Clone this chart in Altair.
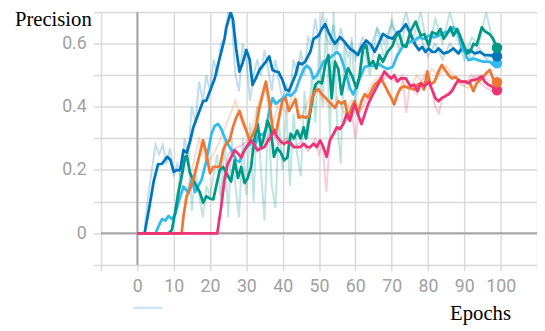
import altair as alt
import pandas as pd

NAMES = ["run_a", "run_b", "run_c", "run_d", "run_e"]
COLORS = ["#0077BB", "#33BBEE", "#009988", "#EE7733", "#EE3377"]

# ---- smoothed curves ----
# run_a (dark blue)
A_E = [0, 2, 3.2, 4.5, 5.7, 6.8, 8.2, 9.1, 10, 10.9, 11.8, 12.7, 13.6, 14.5, 15.4, 16.8, 18.1, 19, 20, 21.3,
       22.2, 23.1, 24, 24.5, 25.7, 26.3, 27.2, 28.1, 29, 30, 30.9, 31.7, 32.6, 33.6, 34.5, 35.4, 36.3, 37.2, 38.1, 38.9,
       39.9, 40.8, 41.7, 42.6, 43.5, 44.4, 45.3, 46.2, 47.6, 48.5, 49.9, 50.8, 51.7, 52.6, 53.5, 54.4, 55.8, 57.1, 58.5, 59.8,
       60.7, 61.7, 63, 64.4, 65.3, 66.2, 67.6, 68.9, 70.3, 71.6, 72.5, 73.9, 74.8, 75.7, 76.6, 77.5, 78.4, 79.3, 80.2, 81.1,
       82, 82.9, 84.3, 85.7, 87, 88.4, 89.3, 90.2, 91.6, 92.9, 94.3, 95.6, 97, 98.4, 99]
A_V = [0, 0, 0.076, 0.164, 0.218, 0.22, 0.242, 0.232, 0.195, 0.2, 0.2, 0.263, 0.255, 0.29, 0.335, 0.378, 0.418, 0.42, 0.45, 0.49,
       0.533, 0.574, 0.615, 0.652, 0.699, 0.678, 0.584, 0.512, 0.54, 0.58, 0.55, 0.47, 0.49, 0.517, 0.53, 0.543, 0.56, 0.517, 0.512, 0.51,
       0.486, 0.455, 0.45, 0.475, 0.5, 0.54, 0.535, 0.543, 0.574, 0.615, 0.626, 0.647, 0.662, 0.637, 0.616, 0.6, 0.621, 0.605, 0.584, 0.574,
       0.564, 0.59, 0.61, 0.595, 0.574, 0.595, 0.631, 0.621, 0.616, 0.636, 0.64, 0.662, 0.64, 0.616, 0.595, 0.58, 0.59, 0.574, 0.585, 0.574,
       0.574, 0.585, 0.569, 0.574, 0.585, 0.569, 0.585, 0.574, 0.58, 0.569, 0.574, 0.564, 0.564, 0.559, 0.56]

# run_b (light blue)
B_E = [0, 5, 5.9, 6.8, 7.7, 8.6, 9.5, 10.4, 11.3, 12.7, 14, 15, 15.9, 16.8, 17.7, 19, 20.4, 21.3, 22.2, 23.1,
       24, 25, 26.3, 27.2, 28.1, 29, 30, 30.9, 31.7, 32.6, 33.6, 34.5, 35.4, 36.3, 37.2, 38.1, 39, 40.4, 41.3, 42.2,
       43.5, 44.4, 45.8, 46.7, 47.6, 48.5, 49.4, 50.3, 51.2, 52.6, 54, 54.9, 55.8, 56.7, 57.6, 58.5, 59.4, 60.3, 61.2, 62.6,
       63.9, 65.3, 66.6, 67.6, 68.9, 70.3, 71.6, 73, 74.8, 76.2, 77.5, 78.9, 80.2, 81.6, 83, 84.8, 86.2, 87, 88.4, 89.3,
       90.2, 91.1, 92.5, 93.8, 95.2, 97, 97.9, 99]
B_V = [0, 0, 0.024, 0.045, 0.04, 0.055, 0.045, 0.06, 0.097, 0.148, 0.128, 0.17, 0.13, 0.15, 0.17, 0.23, 0.315, 0.34, 0.346, 0.33,
       0.304, 0.28, 0.257, 0.231, 0.226, 0.252, 0.273, 0.28, 0.294, 0.285, 0.315, 0.31, 0.33, 0.387, 0.428, 0.41, 0.418, 0.43, 0.44, 0.435,
       0.45, 0.48, 0.52, 0.53, 0.52, 0.49, 0.5, 0.52, 0.543, 0.553, 0.564, 0.574, 0.564, 0.533, 0.5, 0.46, 0.44, 0.46, 0.49, 0.527,
       0.53, 0.53, 0.535, 0.527, 0.52, 0.527, 0.564, 0.59, 0.605, 0.61, 0.621, 0.615, 0.626, 0.62, 0.626, 0.636, 0.64, 0.652, 0.63, 0.589,
       0.57, 0.548, 0.553, 0.548, 0.543, 0.543, 0.533, 0.538]

# run_c (teal)
C_E = [0, 8.6, 9.5, 10.4, 11.3, 12.2, 13.2, 13.6, 14.5, 15.4, 16.3, 17.2, 18.1, 19, 20, 20.9, 21.8, 22.7, 23.6, 24.5,
       25.8, 26.8, 27.7, 28.6, 29.5, 30.4, 31.3, 32.2, 33.1, 34, 35, 35.8, 36.7, 37.6, 38.5, 39.5, 40.4, 41.3, 42.2, 43.1,
       44, 44.9, 45.8, 46.4, 47.2, 48.1, 49, 49.9, 50.8, 51.7, 52.6, 53.5, 54.4, 55.3, 56.2, 57.1, 58, 59, 60.3, 61.2,
       62.1, 63, 63.9, 64.9, 65.8, 66.6, 67.6, 68.9, 70.3, 71.2, 72.1, 73, 74, 75.2, 76.6, 78, 79, 80.2, 81.1, 82.5,
       83.4, 84.3, 85.2, 86.2, 87, 88, 89, 89.8, 90.7, 91.6, 92.5, 93.4, 94.8, 95.6, 97, 97.9, 99]
C_V = [0, 0, 0.01, 0.065, 0.128, 0.18, 0.242, 0.245, 0.19, 0.17, 0.148, 0.13, 0.097, 0.117, 0.11, 0.107, 0.154, 0.2, 0.21, 0.19,
       0.164, 0.231, 0.175, 0.21, 0.159, 0.175, 0.21, 0.294, 0.346, 0.273, 0.31, 0.356, 0.33, 0.242, 0.27, 0.255, 0.231, 0.24, 0.315, 0.3,
       0.325, 0.3, 0.335, 0.3, 0.356, 0.418, 0.47, 0.48, 0.475, 0.533, 0.564, 0.428, 0.543, 0.52, 0.44, 0.49, 0.522, 0.5, 0.46, 0.5,
       0.584, 0.595, 0.533, 0.545, 0.522, 0.564, 0.543, 0.574, 0.595, 0.626, 0.63, 0.595, 0.59, 0.64, 0.67, 0.626, 0.63, 0.595, 0.636, 0.63,
       0.647, 0.616, 0.63, 0.652, 0.626, 0.647, 0.62, 0.595, 0.569, 0.574, 0.6, 0.595, 0.652, 0.64, 0.63, 0.616, 0.587]

# run_d (orange)
D_E = [0, 12.2, 12.7, 13.6, 14.5, 15.4, 16.3, 17.2, 18.1, 19, 20, 20.9, 21.8, 22.7, 23.6, 24.5, 25.4, 26.3, 27.2, 28.1,
       29, 30, 30.9, 31.7, 32.6, 33.6, 34.5, 35.4, 36.3, 37.2, 38.1, 39, 39.9, 40.8, 41.7, 42.6, 43.5, 44.4, 45.3, 46.2,
       47.2, 48.1, 49, 49.9, 50.8, 51.7, 52.6, 53.5, 54.4, 55.3, 56.2, 57.1, 58, 58.9, 59.8, 60.7, 61.7, 62.6, 63.5, 64.4,
       65.3, 66.2, 67.1, 68, 68.9, 69.8, 70.7, 71.6, 72.5, 73.4, 74.8, 76.2, 77.1, 78, 78.9, 79.8, 80.7, 81.8, 82.9, 83.8,
       84.8, 85.7, 86.6, 87.6, 88.8, 89.8, 90.7, 91.6, 92.5, 93.4, 94.8, 96.1, 97, 97.9, 99]
D_V = [0, 0, 0.055, 0.117, 0.14, 0.17, 0.21, 0.252, 0.294, 0.252, 0.19, 0.21, 0.21, 0.21, 0.263, 0.285, 0.294, 0.335, 0.366, 0.387,
       0.356, 0.325, 0.294, 0.31, 0.335, 0.397, 0.44, 0.48, 0.418, 0.335, 0.315, 0.366, 0.418, 0.428, 0.387, 0.405, 0.424, 0.366, 0.37, 0.366,
       0.37, 0.428, 0.45, 0.455, 0.44, 0.43, 0.418, 0.408, 0.397, 0.418, 0.41, 0.418, 0.366, 0.397, 0.418, 0.377, 0.418, 0.44, 0.43, 0.45,
       0.47, 0.48, 0.49, 0.47, 0.45, 0.43, 0.408, 0.44, 0.46, 0.465, 0.46, 0.455, 0.47, 0.475, 0.455, 0.512, 0.47, 0.48, 0.512, 0.533,
       0.515, 0.5, 0.49, 0.495, 0.48, 0.48, 0.48, 0.475, 0.45, 0.475, 0.49, 0.507, 0.517, 0.49, 0.478]

# run_e (pink)
E_E = [0, 22, 23.1, 24, 24.9, 25.8, 26.8, 27.7, 28.6, 29.5, 30.4, 31.3, 32.2, 33.1, 34, 35, 35.8, 36.7, 37.6, 38.5,
       39.5, 40.4, 41.3, 42.2, 43.1, 44, 44.9, 45.8, 46.7, 47.6, 48.5, 49.4, 50.3, 51.2, 52.1, 53, 54, 54.9, 55.8, 56.7,
       57.6, 58.5, 59.8, 60.7, 61.7, 62.6, 63.5, 64.4, 65.3, 66.2, 67.1, 68, 68.9, 69.8, 70.7, 71.6, 72.5, 73.9, 75.2, 76.2,
       77.1, 78, 79.1, 80.2, 81.1, 82, 82.9, 83.8, 84.8, 85.7, 86.6, 87.5, 88.4, 89.3, 90.2, 91.1, 92, 92.9, 93.8, 94.8,
       95.6, 96.6, 97.5, 99]
E_V = [0, 0, 0.086, 0.17, 0.22, 0.24, 0.263, 0.252, 0.24, 0.263, 0.28, 0.294, 0.28, 0.263, 0.268, 0.273, 0.29, 0.304, 0.325, 0.304,
       0.29, 0.283, 0.29, 0.285, 0.273, 0.273, 0.273, 0.283, 0.273, 0.273, 0.283, 0.273, 0.294, 0.273, 0.242, 0.294, 0.315, 0.335, 0.33, 0.346,
       0.377, 0.356, 0.408, 0.377, 0.346, 0.377, 0.408, 0.43, 0.45, 0.47, 0.49, 0.512, 0.5, 0.49, 0.5, 0.48, 0.49, 0.49, 0.465, 0.47,
       0.45, 0.475, 0.465, 0.48, 0.455, 0.428, 0.418, 0.428, 0.434, 0.44, 0.45, 0.47, 0.485, 0.48, 0.48, 0.475, 0.485, 0.485, 0.49, 0.497,
       0.48, 0.47, 0.465, 0.453]

# ---- faint raw (unsmoothed) curves ----
RA_E = [2, 3, 4, 5, 6, 7, 8, 9, 10, 11, 12, 13, 14, 15, 16, 17, 18, 19, 20, 21, 22, 23, 24, 25, 26, 27, 28, 29, 30,
        31, 32, 33, 34, 35, 36, 37, 38, 39, 40, 41, 42, 43, 44, 45, 46, 47, 48, 49, 50, 51, 52, 53, 54, 55, 56, 57, 58,
        59, 60, 62, 64, 66, 68, 70, 72, 74, 76, 78, 80, 82, 84, 86, 88, 90, 92, 94, 96, 98]
RA_V = [0.02, 0.12, 0.2, 0.28, 0.25, 0.28, 0.22, 0.27, 0.18, 0.22, 0.17, 0.3, 0.25, 0.4, 0.35, 0.48, 0.42, 0.5, 0.45,
        0.55, 0.5, 0.6, 0.62, 0.7, 0.68, 0.5, 0.45, 0.6, 0.55, 0.42, 0.5, 0.55, 0.5, 0.58, 0.52, 0.45, 0.55, 0.48, 0.42,
        0.47, 0.44, 0.55, 0.5, 0.58, 0.5, 0.62, 0.6, 0.68, 0.6, 0.7, 0.62, 0.6, 0.66, 0.58, 0.65, 0.6, 0.56, 0.6, 0.55,
        0.62, 0.58, 0.65, 0.6, 0.66, 0.62, 0.7, 0.6, 0.62, 0.56, 0.6, 0.55, 0.6, 0.57, 0.6, 0.55, 0.59, 0.55, 0.57]

RC_E = [10, 12, 14, 15, 16, 18, 19, 20, 22, 23, 24, 25, 26, 27, 28, 29, 30, 31, 32, 33, 34, 35, 36, 37, 38, 39, 40,
        41, 42, 43, 44, 45, 46, 47, 48, 49, 50, 51, 52, 53, 54, 55, 56, 57, 58, 59, 60, 62, 64, 66, 68, 70, 72, 74, 76,
        78, 80, 82, 84, 86, 88, 90, 92, 94, 96, 98]
RC_V = [0.05, 0.2, 0.28, 0.07, 0.2, 0.05, 0.15, 0.12, 0.25, 0.1, 0.3, 0.05, 0.3, 0.15, 0.05, 0.3, 0.12, 0.35, 0.1, 0.4,
        0.2, 0.04, 0.38, 0.15, 0.08, 0.35, 0.2, 0.4, 0.15, 0.38, 0.25, 0.18, 0.45, 0.3, 0.5, 0.35, 0.6, 0.4, 0.68, 0.3,
        0.7, 0.35, 0.22, 0.6, 0.45, 0.62, 0.4, 0.6, 0.5, 0.65, 0.55, 0.68, 0.58, 0.66, 0.62, 0.7, 0.58, 0.68, 0.6, 0.7,
        0.62, 0.55, 0.62, 0.6, 0.7, 0.6]

RD_E = [13, 15, 17, 19, 21, 23, 25, 27, 29, 31, 33, 35, 37, 39, 41, 43, 45, 47, 49, 51, 53, 55, 57, 59, 61, 63, 65,
        67, 69, 71, 73, 75, 77, 79, 81, 83, 85, 87, 89, 91, 93, 95, 97]
RD_V = [0.1, 0.2, 0.3, 0.22, 0.25, 0.3, 0.36, 0.42, 0.34, 0.3, 0.4, 0.47, 0.33, 0.42, 0.38, 0.45, 0.36, 0.42, 0.47,
        0.42, 0.4, 0.43, 0.38, 0.42, 0.4, 0.44, 0.48, 0.5, 0.44, 0.42, 0.48, 0.46, 0.5, 0.47, 0.52, 0.5, 0.53, 0.5,
        0.47, 0.46, 0.5, 0.5, 0.48]

RE_E = [23, 25, 27, 29, 31, 33, 35, 37, 39, 41, 43, 45, 47, 49, 50, 51, 52, 53, 55, 57, 59, 60, 61, 63, 65, 67, 69,
        71, 73, 74, 75, 77, 79, 81, 82, 83, 84, 86, 88, 90, 92, 94, 96, 98]
RE_V = [0.12, 0.25, 0.27, 0.28, 0.3, 0.26, 0.29, 0.32, 0.28, 0.3, 0.27, 0.29, 0.26, 0.3, 0.25, 0.28, 0.13, 0.3, 0.33,
        0.35, 0.38, 0.3, 0.38, 0.42, 0.45, 0.48, 0.5, 0.48, 0.5, 0.38, 0.47, 0.44, 0.5, 0.46, 0.4, 0.38, 0.43, 0.45,
        0.48, 0.47, 0.5, 0.48, 0.46, 0.45]

SERIES = [("run_a", A_E, A_V), ("run_b", B_E, B_V), ("run_c", C_E, C_V),
          ("run_d", D_E, D_V), ("run_e", E_E, E_V)]
RAW = [("run_a", RA_E, RA_V), ("run_c", RC_E, RC_V), ("run_d", RD_E, RD_V), ("run_e", RE_E, RE_V)]
DRAW_ORDER = {"run_b": 0, "run_a": 1, "run_e": 2, "run_d": 3, "run_c": 4}

X_GRID = list(range(-10, 111, 10))
Y_GRID = [round(-0.1 + 0.1 * i, 1) for i in range(9)]


def to_rows(items):
    out = []
    for name, es, vs in items:
        assert len(es) == len(vs), name
        for e, v in zip(es, vs):
            out.append({"run": name, "epoch": e, "value": v, "order": DRAW_ORDER[name]})
    return out


df = pd.DataFrame(to_rows(SERIES))
df_raw = pd.DataFrame(to_rows(RAW))
df_last = pd.DataFrame([{"run": n, "epoch": es[-1], "value": vs[-1], "order": DRAW_ORDER[n]}
                        for n, es, vs in SERIES])

GRID = "#dadada"
X_SCALE = alt.Scale(domain=[-10, 110], nice=False, zero=False)
Y_SCALE = alt.Scale(domain=[-0.1, 0.7], nice=False, zero=False)
color = alt.Color("run:N", scale=alt.Scale(domain=NAMES, range=COLORS), legend=None)

x_axis = alt.Axis(values=X_GRID, grid=True, gridColor=GRID, gridWidth=1.5,
                  domain=False, ticks=True, tickColor=GRID, tickWidth=1.5, tickSize=6,
                  labelExpr="(datum.value < 0 || datum.value > 100) ? '' : datum.label",
                  labelFont="Roboto", labelFontSize=18, labelColor="#a0a0a0",
                  labelPadding=7, labelFlush=False, labelOverlap=False, labelBound=False,
                  title="Epochs", titleFont="Liberation Serif", titleFontSize=21,
                  titleFontWeight="normal", titleColor="#000000",
                  titleAlign="right", titleBaseline="alphabetic",
                  titleX=416, titleY=56, titleAngle=0)
y_axis = alt.Axis(values=Y_GRID, grid=True, gridColor=GRID, gridWidth=1.5,
                  domain=False, ticks=True, tickColor=GRID, tickWidth=1.5, tickSize=8,
                  labelExpr="(datum.value > -0.05 && datum.value < 0.65 && round(datum.value*10) % 2 == 0) ? (abs(datum.value) < 0.001 ? '0' : format(datum.value, '.1f')) : ''",
                  labelFont="Roboto", labelFontSize=18, labelColor="#a0a0a0",
                  labelPadding=7, labelFlush=False, labelOverlap=False, labelBound=False,
                  title="Precision", titleFont="Liberation Serif", titleFontSize=21,
                  titleFontWeight="normal", titleColor="#000000",
                  titleAlign="left", titleBaseline="alphabetic",
                  titleX=-88, titleY=14, titleAngle=0)

X_ENC = alt.X("epoch:Q", scale=X_SCALE, axis=x_axis)
Y_ENC = alt.Y("value:Q", scale=Y_SCALE, axis=y_axis)

raw_lines = alt.Chart(df_raw).mark_line(strokeWidth=2, opacity=0.25, clip=True).encode(
    x=X_ENC, y=Y_ENC, color=color, detail="run:N", order=alt.Order("epoch:Q"))

lines = alt.Chart(df).mark_line(strokeWidth=2.8, clip=True, strokeJoin="round").encode(
    x=X_ENC, y=Y_ENC, color=color, detail="run:N", order=alt.Order("epoch:Q"))

zero_df = pd.DataFrame({"k": [0]})
zero_h = alt.Chart(zero_df).mark_rule(color="#a6a6a6", strokeWidth=2).encode(
    y=alt.YDatum(0, scale=Y_SCALE, axis=y_axis))
zero_v = alt.Chart(zero_df).mark_rule(color="#a6a6a6", strokeWidth=2).encode(
    x=alt.XDatum(0, scale=X_SCALE, axis=x_axis))

dots = alt.Chart(df_last).mark_circle(size=115, opacity=1).encode(
    x=X_ENC, y=Y_ENC, color=color, order=alt.Order("order:Q"))

legend_stub = alt.Chart(zero_df).mark_rule(color="#cfe5f5", strokeWidth=2.5).encode(
    x=alt.XDatum(-1.2, scale=X_SCALE, axis=x_axis), x2=alt.X2Datum(6.8),
    y=alt.YDatum(-0.236, scale=Y_SCALE, axis=y_axis))

chart = alt.layer(zero_h, zero_v, raw_lines, lines, dots, legend_stub).properties(
    width=443, height=256.8,
    padding={"left": 94.5, "top": 1.6, "right": 0, "bottom": 64},
    autosize=alt.AutoSizeParams(type="none"),
).configure_view(strokeWidth=0).configure(background="#ffffff")

chart.save("out.html", embed_options={"renderer": "svg", "actions": False})
